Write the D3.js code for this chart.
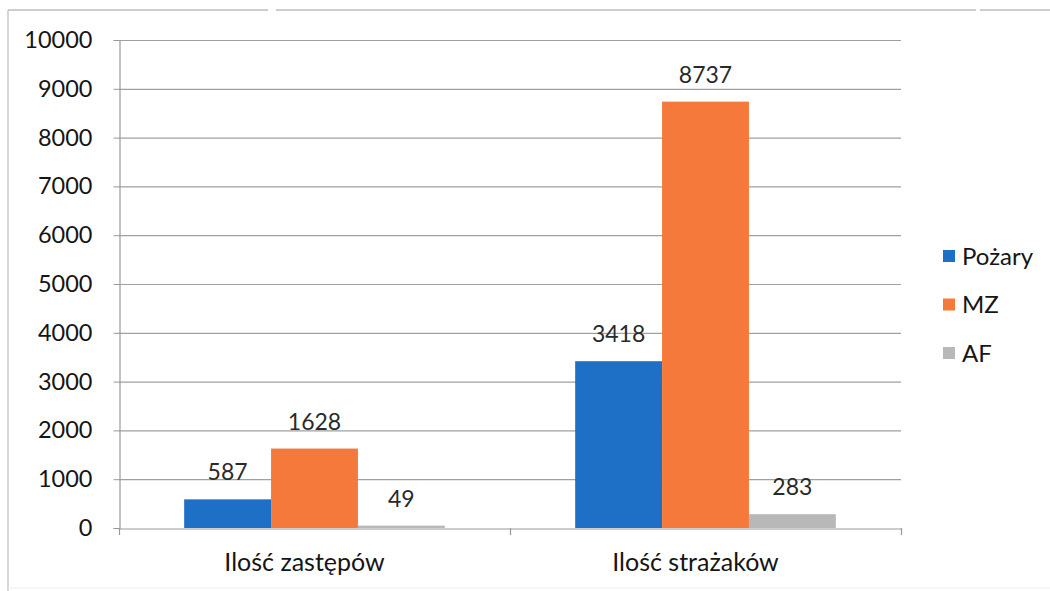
<!DOCTYPE html>
<html><head><meta charset="utf-8">
<script src="https://cdn.jsdelivr.net/npm/d3@7"></script>
<style>body{margin:0;background:#fff;}svg{display:block;font-family:Lato,"Open Sans",sans-serif;}</style>
</head><body><svg id="c" width="1050" height="591"></svg>
<script>
const categories = ["Ilość zastępów", "Ilość strażaków"];
const seriesNames = ["Pożary", "MZ", "AF"];
const pozary = [587, 3418];
const mz = [1628, 8737];
const af = [49, 283];
const yTicks = [0,1000,2000,3000,4000,5000,6000,7000,8000,9000,10000];
const colors = ["#1e6fc6", "#f5793a", "#b8b8b8"];
const seriesValues = [pozary, mz, af];

const svg = d3.select("#c");
// page frame (scan border)
svg.append("line").attr("x1",8).attr("x2",8).attr("y1",10).attr("y2",591).attr("stroke","#c8c8c8").attr("stroke-width",1.5);
svg.append("line").attr("x1",8).attr("x2",1050).attr("y1",10).attr("y2",10).attr("stroke","#bdbdbd").attr("stroke-width",1.5).attr("stroke-dasharray","260,8,700,4");
svg.append("line").attr("x1",8).attr("x2",1050).attr("y1",588).attr("y2",588).attr("stroke","#ececec").attr("stroke-width",1);

const L = 119, R = 901, T = 40, B = 528;
const x = d3.scaleBand().domain(categories).range([L, R]).paddingInner(0).paddingOuter(0);
const y = d3.scaleLinear().domain([0, 10000]).range([B, T]);
const gap = 1.5; // gap width 150%
const barW = x.bandwidth() / (3 + gap);
const x1 = d3.scaleBand().domain(seriesNames).range([barW*gap/2, barW*gap/2 + 3*barW]).padding(0);

// gridlines
svg.append("g").selectAll("line").data(yTicks.slice(1)).join("line")
  .attr("x1", L).attr("x2", R).attr("y1", d => y(d)+0.5).attr("y2", d => y(d)+0.5)
  .attr("stroke", "#a0a0a0").attr("stroke-width", 1.2);

// y axis
const yAxis = svg.append("g").attr("transform", `translate(${L+0.5},0)`)
  .call(d3.axisLeft(y).tickValues(yTicks).tickSize(6).tickPadding(21).tickFormat(d3.format("d")));
yAxis.select(".domain").attr("stroke", "#9a9a9a").attr("stroke-width",1.2);
yAxis.selectAll(".tick line").attr("stroke", "#9a9a9a");
yAxis.selectAll("text").attr("font-size", 23.5).attr("fill", "#151515").attr("font-family","Lato,sans-serif");

// bars
categories.forEach((cat, ci) => {
  const g = svg.append("g").attr("transform", `translate(${x(cat)},0)`);
  g.selectAll("rect").data(seriesNames.map((s, si) => ({s, v: seriesValues[si][ci], si}))).join("rect")
    .attr("x", d => x1(d.s)).attr("width", x1.bandwidth())
    .attr("y", d => y(d.v)).attr("height", d => B - y(d.v))
    .attr("fill", d => colors[d.si]);
  g.selectAll("text").data(seriesNames.map((s, si) => ({s, v: seriesValues[si][ci], si}))).join("text")
    .attr("x", d => x1(d.s) + x1.bandwidth()/2).attr("y", d => y(d.v) - 19)
    .attr("text-anchor", "middle").attr("font-size", 23).attr("fill", "#2a2a2a")
    .text(d => d.v);
});

// x axis
const xAxis = svg.append("g").attr("transform", `translate(0,${B+0.5})`)
  .call(d3.axisBottom(x).tickSize(0).tickPadding(25));
xAxis.select(".domain").attr("stroke", "#9a9a9a").attr("stroke-width",1.2);
xAxis.selectAll("text").attr("font-size", 25).attr("fill", "#151515").attr("font-family","Lato,sans-serif").attr("dx", -10);
// category separators ticks
const sepX = [L, x(categories[1]), R];
svg.append("g").selectAll("line").data(sepX).join("line")
  .attr("x1", d => d+0.5).attr("x2", d => d+0.5).attr("y1", B).attr("y2", B+7)
  .attr("stroke", "#9a9a9a").attr("stroke-width",1.2);

// legend
const lg = svg.append("g").attr("transform", "translate(943,256)");
seriesNames.forEach((s, i) => {
  const row = lg.append("g").attr("transform", `translate(0,${i*48.5})`);
  row.append("rect").attr("x", 0).attr("y", -6).attr("width", 12).attr("height", 12).attr("fill", colors[i]);
  row.append("text").attr("x", 19).attr("y", 0).attr("dy", "0.36em").attr("font-size", 24).attr("fill", "#151515").text(s);
});
</script></body></html>
